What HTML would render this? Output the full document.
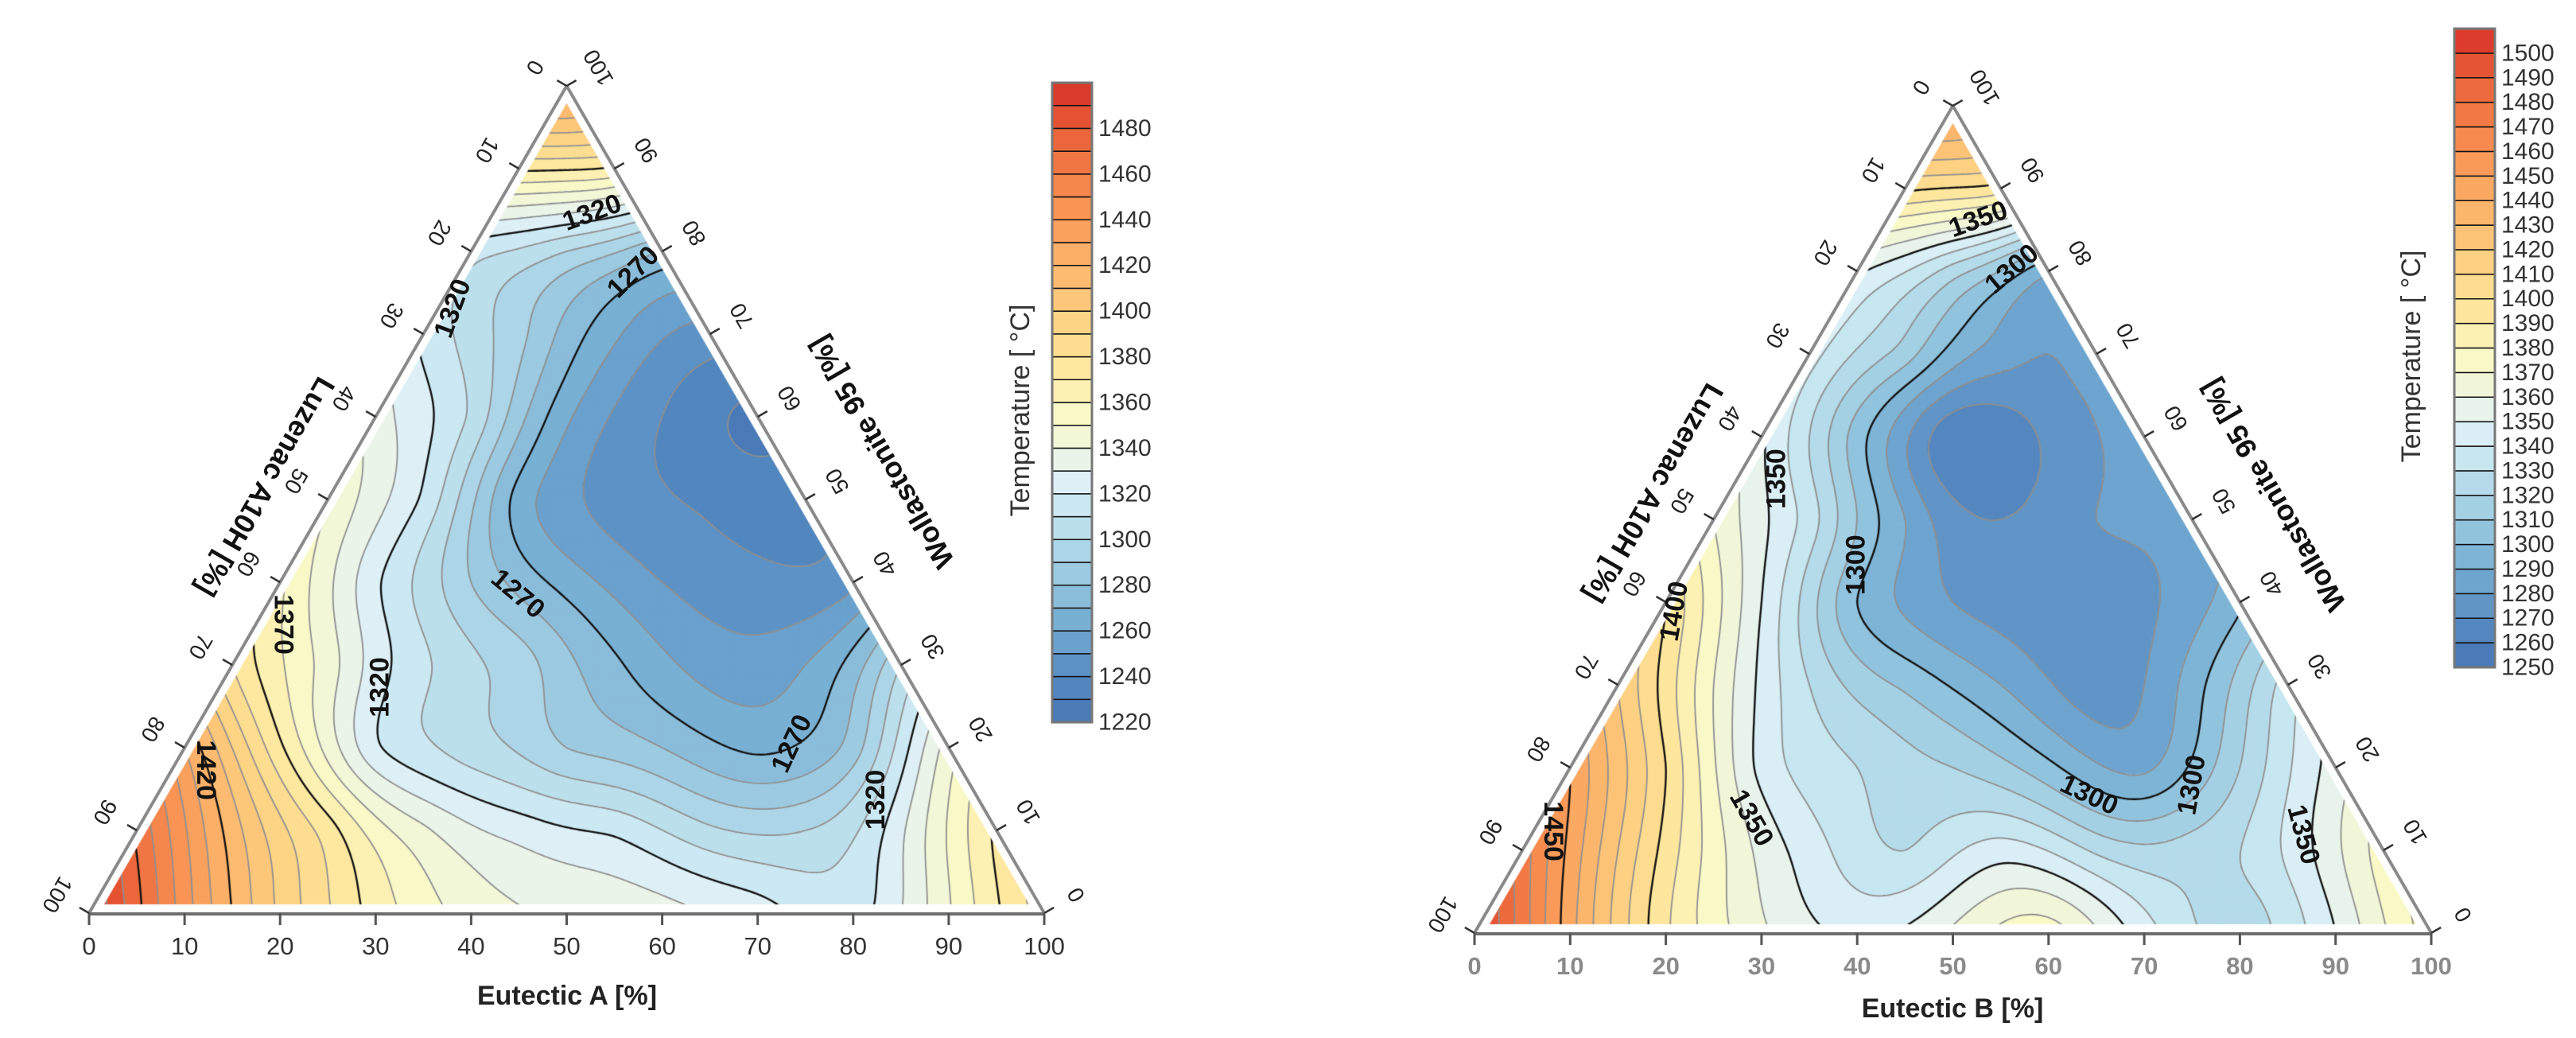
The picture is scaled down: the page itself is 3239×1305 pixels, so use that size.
<!DOCTYPE html>
<html><head><meta charset="utf-8"><title>Ternary temperature contours</title>
<style>
html,body{margin:0;padding:0;background:#fff;}
#wrap{position:relative;width:3239px;height:1305px;overflow:hidden;background:#fff;}
canvas{position:absolute;left:0;top:0;}
svg{position:absolute;left:0;top:0;}
text{font-family:"Liberation Sans",sans-serif;}
</style></head>
<body>
<div id="wrap">
<canvas id="cv" width="3239" height="1305"></canvas>
<svg id="ov" width="3239" height="1305" xmlns="http://www.w3.org/2000/svg"></svg>
</div>
<script>
// ---------- Chart A data (Eutectic A %, Wollastonite %, temperature °C) ----------
const eutA  = [0, 0,10, 0,10,20, 0,10,20,30, 0,10,20,30,40, 0,10,20,30,40,50, 0,10,20,30,40,50,60, 0,10,20,30,40,50,60,70, 0,10,20,30,40,50,60,70,80, 0,10,20,30,40,50,60,70,80,90, 0,10,20,30,40,50,60,70,80,90,100];
const wolA  = [100,90,90,80,80,80,70,70,70,70,60,60,60,60,60,50,50,50,50,50,50,40,40,40,40,40,40,40,30,30,30,30,30,30,30,30,20,20,20,20,20,20,20,20,20,10,10,10,10,10,10,10,10,10,10,0,0,0,0,0,0,0,0,0,0,0];
const tempA = [1430,1372,1368,1315,1300,1280,1318,1293,1262,1246,1335,1308,1262,1240,1228,1350,1318,1266,1246,1238,1236,1362,1322,1290,1266,1250,1243,1248,1380,1345,1312,1295,1272,1256,1260,1300,1430,1372,1322,1305,1290,1280,1268,1285,1345,1468,1415,1375,1342,1326,1318,1302,1300,1328,1372,1500,1445,1398,1366,1346,1338,1334,1325,1316,1349,1385];
const levelLabelsA = [1320,1270,1320,1370,1420,1320,1270,1270,1320];
const labelEA = [10.3,18.2,1.5,2.9,3.6,16.8,25.6,63.3,75.5];
const labelWA = [84.7,77.5,73.1,34.9,17.3,27.3,38.6,20.5,13.7];
const labelRotA = [-20,-45,-70,90,90,-90,40,-65,-90];
const cbarTicksA = [1220,1240,1260,1280,1300,1320,1340,1360,1380,1400,1420,1440,1460,1480];

// ---------- Chart B data ----------
const eutB  = [0, 0,10, 0,10,20, 0,10,20,30, 0,10,20,30,40, 0,10,20,30,40,50, 0,10,20,30,40,50,60, 0,10,20,30,40,50,60,70, 0,10,20,30,40,50,60,70,80, 0,10,20,30,40,50,60,70,80,90, 0,10,20,30,40,50,60,70,80,90,100];
const wolB  = [100,90,90,80,80,80,70,70,70,70,60,60,60,60,60,50,50,50,50,50,50,40,40,40,40,40,40,40,30,30,30,30,30,30,30,30,20,20,20,20,20,20,20,20,20,10,10,10,10,10,10,10,10,10,10,0,0,0,0,0,0,0,0,0,0,0];
const tempB = [1445,1402,1395,1352,1325,1292,1345,1315,1285,1285,1352,1305,1262,1272,1285,1370,1335,1290,1270,1280,1285,1400,1350,1300,1280,1275,1278,1298,1420,1370,1330,1308,1290,1275,1295,1335,1450,1400,1347,1330,1320,1303,1288,1320,1355,1475,1420,1375,1345,1330,1345,1328,1325,1342,1375,1505,1444,1392,1362,1348,1362,1375,1345,1325,1350,1385];
const levelLabelsB = [1350,1300,1350,1400,1450,1300,1350,1300,1300,1350];
const labelEB = [9.5,16.0,4.1,1.4,2.1,17.6,22.0,55.9,66.0,80.7];
const labelWB = [86.3,80.3,54.9,38.9,12.3,44.5,13.9,16.7,17.9,11.9];
const labelRotB = [-20,-40,-90,-80,90,-90,60,25,-80,75];
const cbarTicksB = [1250,1260,1270,1280,1290,1300,1310,1320,1330,1340,1350,1360,1370,1380,1390,1400,1410,1420,1430,1440,1450,1460,1470,1480,1490,1500];

const axisTicks = [0,10,20,30,40,50,60,70,80,90,100];

const charts = [
 {key:'a', E:eutA, W:wolA, T:tempA, lo:1220, n:28, BL:[112,1148], w:1201, h:1040,
  cb:{x:1323,w:50,top:104,bottom:908}, cbTicks:cbarTicksA, tempLabel:[1283,516],
  labV:levelLabelsA, labE:labelEA, labW:labelWA, labR:labelRotA,
  title:'Eutectic A   [%]', titlePos:[713,1252], tickColor:'#333', tickWeight:'normal',
  luz:[334,612], wol:[1108,569]},
 {key:'b', E:eutB, W:wolB, T:tempB, lo:1250, n:26, BL:[1854,1173], w:1203, h:1040,
  cb:{x:3086,w:51,top:36,bottom:839}, cbTicks:cbarTicksB, tempLabel:[3032,448],
  labV:levelLabelsB, labE:labelEB, labW:labelWB, labR:labelRotB,
  title:'Eutectic B   [%]', titlePos:[2455,1268], tickColor:'#8a8a8a', tickWeight:'bold',
  luz:[2080,620], wol:[2858,623]}
];

const stops = [[0,'#4575b4'],[0.08,'#5a8ec3'],[0.16,'#78b0d4'],[0.24,'#9fcde2'],[0.32,'#c3e4ef'],[0.38,'#e0f1f7'],[0.42,'#edf5e3'],[0.48,'#f9f9c8'],[0.55,'#fee9a0'],[0.62,'#fdd586'],[0.72,'#fcb36a'],[0.82,'#f88e51'],[0.92,'#ea6339'],[1,'#d73027']];
function hex(c){return [parseInt(c.substr(1,2),16),parseInt(c.substr(3,2),16),parseInt(c.substr(5,2),16)];}
function cmap(t){
  t=Math.max(0,Math.min(1,t));
  for(let i=1;i<stops.length;i++){
    if(t<=stops[i][0]){const a=stops[i-1],b=stops[i];const f=(t-a[0])/(b[0]-a[0]);
      const ca=hex(a[1]),cb=hex(b[1]);
      return 'rgb('+ca.map((v,k)=>Math.round(v+(cb[k]-v)*f)).join(',')+')';}
  }
  return stops[stops.length-1][1];
}

function proj(c,E,W){return [c.BL[0]+(E+W/2)/100*c.w, c.BL[1]-W/100*c.h];}

// thin plate spline
function buildTPS(c){
  const n=c.T.length, N=n+3;
  const px=[],py=[];
  for(let i=0;i<n;i++){px.push(c.E[i]+c.W[i]/2);py.push(c.W[i]*0.866);}
  const phi=r2=>r2<=0?0:0.5*r2*Math.log(r2);
  const A=[];for(let i=0;i<N;i++){A.push(new Array(N+1).fill(0));}
  for(let i=0;i<n;i++){
    for(let j=0;j<n;j++){const dx=px[i]-px[j],dy=py[i]-py[j];A[i][j]=phi(dx*dx+dy*dy);}
    A[i][n]=1;A[i][n+1]=px[i];A[i][n+2]=py[i];
    A[n][i]=1;A[n+1][i]=px[i];A[n+2][i]=py[i];
    A[i][N]=c.T[i];
  }
  for(let k=0;k<N;k++){
    let p=k;for(let i=k+1;i<N;i++)if(Math.abs(A[i][k])>Math.abs(A[p][k]))p=i;
    const tmp=A[k];A[k]=A[p];A[p]=tmp;
    for(let i=k+1;i<N;i++){const f=A[i][k]/A[k][k];if(f===0)continue;for(let j=k;j<=N;j++)A[i][j]-=f*A[k][j];}
  }
  const x=new Array(N).fill(0);
  for(let i=N-1;i>=0;i--){let s=A[i][N];for(let j=i+1;j<N;j++)s-=A[i][j]*x[j];x[i]=s/A[i][i];}
  return function(u,v){let s=x[n]+x[n+1]*u+x[n+2]*v;
    for(let i=0;i<n;i++){const dx=u-px[i],dy=v-py[i];s+=x[i]*phi(dx*dx+dy*dy);}return s;};
}

const cv=document.getElementById('cv');const ctx=cv.getContext('2d');
const ov=document.getElementById('ov');const NS='http://www.w3.org/2000/svg';
function mk(tag,attrs,parent){const e=document.createElementNS(NS,tag);for(const k in attrs)e.setAttribute(k,attrs[k]);(parent||ov).appendChild(e);return e;}

charts.forEach(c=>{
  const f=buildTPS(c);
  const step=3;
  const x0=c.BL[0]-6,x1=c.BL[0]+c.w+6,y0=c.BL[1]-c.h-6,y1=c.BL[1]+6;
  const nx=Math.ceil((x1-x0)/step)+1, ny=Math.ceil((y1-y0)/step)+1;
  const G=new Float64Array(nx*ny);
  for(let j=0;j<ny;j++){const y=y0+j*step;const W=(c.BL[1]-y)/c.h*100;
    for(let i=0;i<nx;i++){const x=x0+i*step;const E=(x-c.BL[0])/c.w*100-W/2;
      G[j*nx+i]=f(E+W/2,W*0.866);}}
  ctx.save();
  const ins=11;
  const A=[c.BL[0]+ins*1.73,c.BL[1]-ins],B=[c.BL[0]+c.w-ins*1.73,c.BL[1]-ins],C=[c.BL[0]+c.w/2,c.BL[1]-c.h+ins*2];
  ctx.beginPath();ctx.moveTo(A[0],A[1]);ctx.lineTo(B[0],B[1]);ctx.lineTo(C[0],C[1]);ctx.closePath();ctx.clip();
  for(let j=0;j<ny-1;j++)for(let i=0;i<nx-1;i++){
    const t=(G[j*nx+i]+G[j*nx+i+1]+G[(j+1)*nx+i]+G[(j+1)*nx+i+1])/4;
    let k=Math.floor((t-c.lo)/10);k=Math.max(0,Math.min(c.n-1,k));
    ctx.fillStyle=cmap((k+0.5)/c.n);
    ctx.fillRect(x0+i*step-0.5,y0+j*step-0.5,step+1,step+1);
  }
  for(let L=c.lo+10;L<c.lo+c.n*10;L+=10){
    const major=((L-c.lo)%50===0);
    ctx.strokeStyle=major?'#111':'#8f8f8f';ctx.lineWidth=major?2.4:1.8;
    ctx.beginPath();
    for(let j=0;j<ny-1;j++)for(let i=0;i<nx-1;i++){
      const a=G[j*nx+i],b=G[j*nx+i+1],cc=G[(j+1)*nx+i+1],d=G[(j+1)*nx+i];
      const xs=x0+i*step,ys=y0+j*step;
      const pts=[];
      if((a<L)!==(b<L))pts.push([xs+step*(L-a)/(b-a),ys]);
      if((b<L)!==(cc<L))pts.push([xs+step,ys+step*(L-b)/(cc-b)]);
      if((d<L)!==(cc<L))pts.push([xs+step*(L-d)/(cc-d),ys+step]);
      if((a<L)!==(d<L))pts.push([xs,ys+step*(L-a)/(d-a)]);
      if(pts.length>=2){ctx.moveTo(pts[0][0],pts[0][1]);ctx.lineTo(pts[1][0],pts[1][1]);}
      if(pts.length===4){ctx.moveTo(pts[2][0],pts[2][1]);ctx.lineTo(pts[3][0],pts[3][1]);}
    }
    ctx.stroke();
  }
  ctx.restore();

  const g=mk('g',{});
  
  
  const BLp=c.BL,BRp=[c.BL[0]+c.w,c.BL[1]],TP=[c.BL[0]+c.w/2,c.BL[1]-c.h];
  const le=mk('line',{x1:BLp[0],y1:BLp[1],x2:TP[0],y2:TP[1],stroke:'#8a8a8a','stroke-width':4},g);
  
  const re=mk('line',{x1:BRp[0],y1:BRp[1],x2:TP[0],y2:TP[1],stroke:'#8a8a8a','stroke-width':4},g);
  
  const be=mk('line',{x1:BLp[0],y1:BLp[1]+1,x2:BRp[0],y2:BRp[1]+1,stroke:'#6e6e6e','stroke-width':4},g);
  
  axisTicks.forEach(v=>{
    let p=proj(c,v,0);
    const t1=mk('line',{x1:p[0],y1:p[1],x2:p[0],y2:p[1]+15,stroke:'#555','stroke-width':3},g);
    
    const tl=mk('text',{x:p[0],y:p[1]+52,'font-size':31,'text-anchor':'middle',fill:c.tickColor,'font-weight':c.tickWeight},g);
    tl.textContent=v;
    p=proj(c,0,100-v);
    const ox=-0.866,oy=-0.5;
    const t2=mk('line',{x1:p[0],y1:p[1],x2:p[0]+ox*14,y2:p[1]+oy*14,stroke:'#333','stroke-width':2.5},g);
    
    const lx=p[0]+ox*46,ly=p[1]+oy*46;
    const tl2=mk('text',{x:lx,y:ly,'font-size':28,'text-anchor':'middle','dominant-baseline':'central',fill:'#222',transform:'rotate(120 '+lx+' '+ly+')'},g);
    tl2.textContent=v;
    p=proj(c,100-v,v);
    const rx=0.866,ry=-0.5;
    const t3=mk('line',{x1:p[0],y1:p[1],x2:p[0]+rx*14,y2:p[1]+ry*14,stroke:'#333','stroke-width':2.5},g);
    
    const wx=p[0]+rx*46,wy=p[1]+ry*46;
    const tl3=mk('text',{x:wx,y:wy,'font-size':28,'text-anchor':'middle','dominant-baseline':'central',fill:'#222',transform:'rotate(240 '+wx+' '+wy+')'},g);
    tl3.textContent=v;
  });
  const tt=mk('text',{x:c.titlePos[0],y:c.titlePos[1],'font-size':34,'font-weight':'bold','text-anchor':'middle','dominant-baseline':'central',fill:'#222'},g);
  tt.textContent=c.title;
  const lt=mk('text',{x:c.luz[0],y:c.luz[1],'font-size':36,'font-weight':'bold','text-anchor':'middle','dominant-baseline':'central',fill:'#111',transform:'rotate(120 '+c.luz[0]+' '+c.luz[1]+')'},g);
  lt.textContent='Luzenac A10H   [%]';
  const wt=mk('text',{x:c.wol[0],y:c.wol[1],'font-size':36,'font-weight':'bold','text-anchor':'middle','dominant-baseline':'central',fill:'#111',transform:'rotate(240 '+c.wol[0]+' '+c.wol[1]+')'},g);
  wt.textContent='Wollastonite 95   [%]';
  c.labV.forEach((v,i)=>{
    const p=proj(c,c.labE[i],c.labW[i]);
    const lab=mk('text',{x:p[0],y:p[1],'font-size':34,'font-weight':'bold','text-anchor':'middle','dominant-baseline':'central',fill:'#111',transform:'rotate('+c.labR[i]+' '+p[0]+' '+p[1]+')'},g);
    lab.textContent=v;
  });
  const cbg=mk('g',{},g);
  
  const bh=(c.cb.bottom-c.cb.top)/c.n;
  for(let k=0;k<c.n;k++){
    const y=c.cb.bottom-(k+1)*bh;
    const r=mk('rect',{x:c.cb.x,y:y,width:c.cb.w,height:bh,fill:cmap((k+0.5)/c.n),stroke:'#111','stroke-width':1.5},cbg);
    
  }
  mk('rect',{x:c.cb.x,y:c.cb.top,width:c.cb.w,height:c.cb.bottom-c.cb.top,fill:'none',stroke:'#777','stroke-width':3},cbg);
  c.cbTicks.forEach(v=>{
    const y=c.cb.bottom-(v-c.lo)/10*bh;
    const t=mk('text',{x:c.cb.x+c.cb.w+8,y:y,'font-size':30,'dominant-baseline':'central',fill:'#333'},cbg);
    t.textContent=v;
  });
  const tl=c.tempLabel;
  const tlab=mk('text',{x:tl[0],y:tl[1],'font-size':34,'text-anchor':'middle','dominant-baseline':'central',fill:'#333',transform:'rotate(-90 '+tl[0]+' '+tl[1]+')'},g);
  tlab.textContent='Temperature   [ °C]';
});
</script>
</body></html>
